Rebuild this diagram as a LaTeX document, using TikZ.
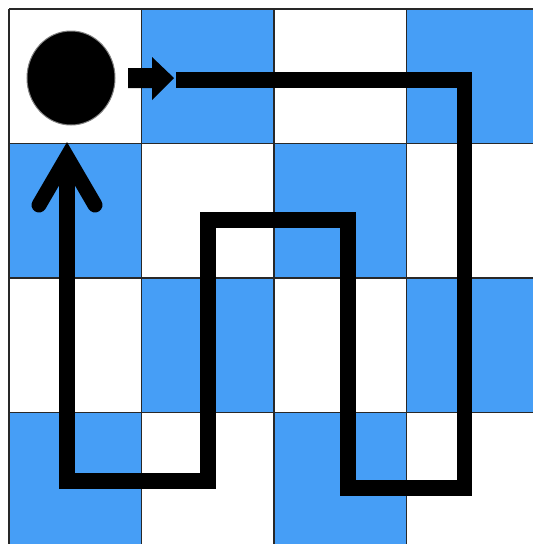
\documentclass[tikz,border=0pt]{standalone}
\usetikzlibrary{shapes.geometric}
\definecolor{cellblue}{RGB}{70,158,246}
\definecolor{gridgray}{RGB}{40,40,40}
\begin{document}
\begin{tikzpicture}[x=1pt,y=-1pt,
  gridline/.style={draw=gridgray,line width=1.3pt},
  trail/.style={draw=black,line width=15.5pt,line cap=butt,line join=miter},
  chevron/.style={draw=black,line width=15pt,line cap=round,line join=miter}]
\useasboundingbox (0,0) rectangle (533,544);
\fill[white] (0,0) rectangle (533,544);
% checkerboard
\foreach \c/\xa/\xb in {0/9/141.5,1/141.5/274,2/274/406.5,3/406.5/539}{
  \foreach \r/\ya/\yb in {0/9/143.5,1/143.5/278,2/278/412.5,3/412.5/547}{
    \pgfmathtruncatemacro{\cellpar}{mod(\c+\r,2)}
    \ifnum\cellpar=1 \fill[cellblue] (\xa,\ya) rectangle (\xb,\yb);\fi
  }
}
\foreach \x in {9,141.5,274,406.5}{\draw[gridline] (\x,9) -- (\x,547);}
\foreach \y in {9,143.5,278,412.5}{\draw[gridline] (9,\y) -- (539,\y);}
% start disk
\node[ellipse,fill=black,draw=gray,line width=1pt,minimum width=88pt,minimum height=94pt,inner sep=0pt] (disk) at (71,78) {};
% small arrow
\fill[black] (128,68) -- (152,68) -- (152,57) -- (174,78) -- (152,100) -- (152,88) -- (128,88) -- cycle;
% trail
\coordinate (s) at (176,80);
\coordinate (c1) at (464.5,80);
\coordinate (c2) at (464.5,488);
\coordinate (c3) at (348,488);
\coordinate (c4) at (348,220);
\coordinate (c5) at (208,220);
\coordinate (c6) at (208,481);
\coordinate (c7) at (67,481);
\coordinate (e) at (67,165);
\draw[trail] (s) -- (c1) -- (c2) -- (c3) -- (c4) -- (c5) -- (c6) -- (c7) -- (e);
% arrow head
\coordinate (apex) at (67,157);
\coordinate (la) at (39,205);
\coordinate (ra) at (95,205);
\draw[chevron] (la) -- (apex) -- (ra);
\end{tikzpicture}
\end{document}
